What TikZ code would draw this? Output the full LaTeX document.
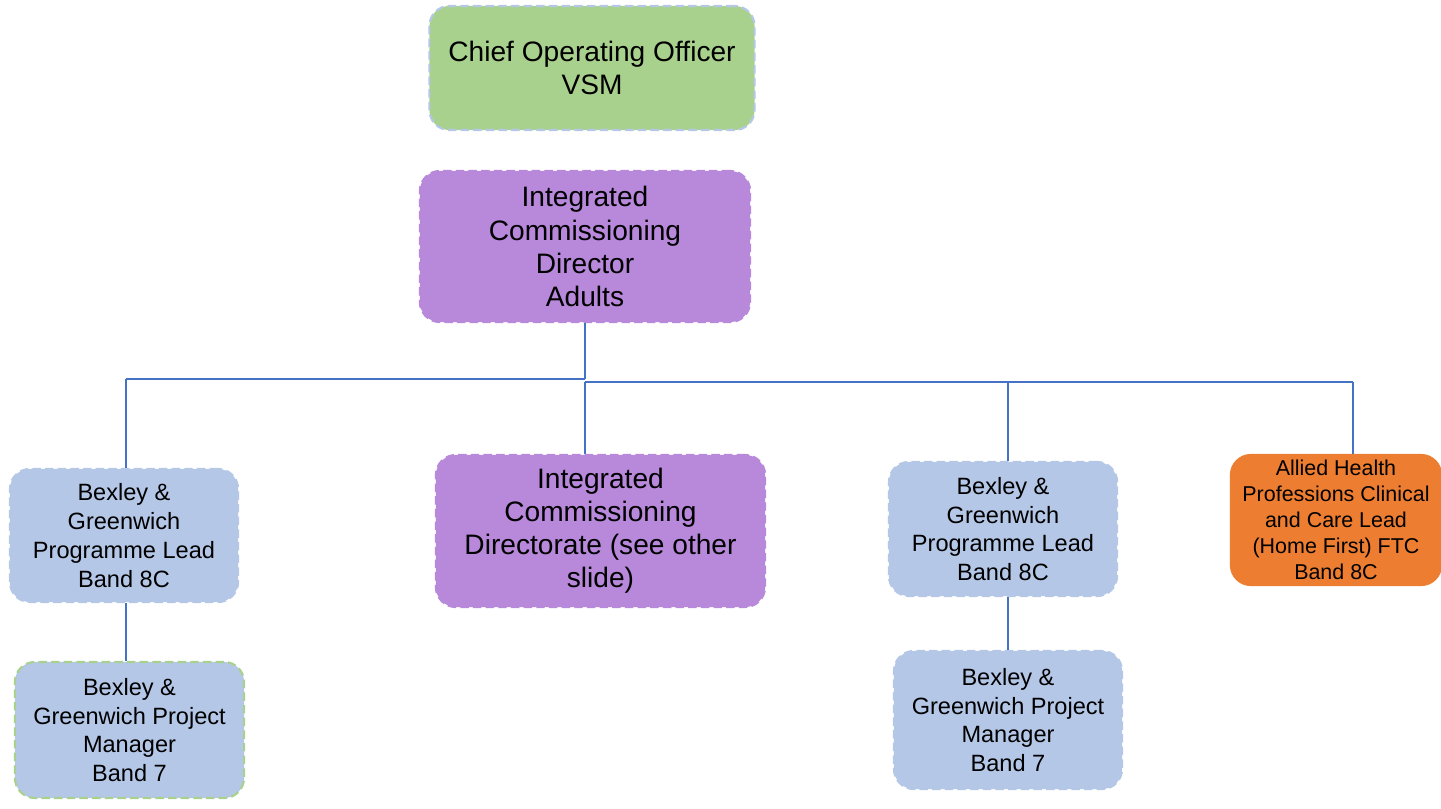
\documentclass[tikz,border=0pt]{standalone}
\usepackage{fontspec}
\setmainfont{Liberation Sans}
\usepackage{tikz}
\definecolor{boxgreen}{HTML}{A9D18E}
\definecolor{boxpurple}{HTML}{B888DB}
\definecolor{boxblue}{HTML}{B4C7E7}
\definecolor{boxorange}{HTML}{ED7D31}
\definecolor{linkblue}{HTML}{4472C4}
\begin{document}
\begin{tikzpicture}[x=0.01cm,y=-0.01cm]
\tikzset{box/.style={rounded corners=0.2cm,inner sep=0pt,align=center,line width=0.6pt,dash pattern=on 2.4pt off 1.2pt},
  big/.style={box,font=\fontsize{8}{9.4}\selectfont},
  small/.style={box,font=\fontsize{6.7}{8.2}\selectfont},
  link/.style={draw=linkblue,line width=.5pt}}
\useasboundingbox (0,0) rectangle (1441,808);
\node[big,fill=boxgreen,draw=boxblue,minimum width=3.25cm,minimum height=1.24cm] (coo) at (592,68) {Chief Operating Officer\\VSM};
\node[big,fill=boxpurple,draw=boxpurple,minimum width=3.3cm,minimum height=1.51cm] (icd) at (585,246.5) {Integrated\\Commissioning\\Director\\Adults};
\node[small,fill=boxblue,draw=boxblue,minimum width=2.28cm,minimum height=1.33cm] (plL) at (124,535.5) {Bexley \&\\Greenwich\\Programme Lead\\Band 8C};
\node[small,fill=boxblue,draw=boxgreen,minimum width=2.29cm,minimum height=1.36cm] (pmL) at (129.5,730) {Bexley \&\\Greenwich Project\\Manager\\Band 7};
\node[big,fill=boxpurple,draw=boxpurple,minimum width=3.29cm,minimum height=1.52cm] (icdir) at (600.5,531) {Integrated\\Commissioning\\Directorate (see other\\slide)};
\node[small,fill=boxblue,draw=boxblue,minimum width=2.28cm,minimum height=1.34cm] (plR) at (1003,529) {Bexley \&\\Greenwich\\Programme Lead\\Band 8C};
\node[small,fill=boxblue,draw=boxblue,minimum width=2.28cm,minimum height=1.38cm] (pmR) at (1008,720) {Bexley \&\\Greenwich Project\\Manager\\Band 7};
\node[box,solid,fill=boxorange,draw=boxorange,font=\fontsize{6.1}{7.4}\selectfont,minimum width=2.1cm,minimum height=1.3cm] (ahp) at (1336,520) {Allied Health\\Professions Clinical\\and Care Lead\\(Home First) FTC\\Band 8C};
\coordinate (busl) at (126,379);
\coordinate (busr) at (1353,382);
\draw[link] (icd.south) -- (icd.south |- busl);
\draw[link] (busl) -- (icd.south |- busl);
\draw[link] (icd.south |- busr) -- (busr);
\draw[link] (busl) -- (busl |- plL.north);
\draw[link] (busl |- plL.south) -- (busl |- pmL.north);
\draw[link] (icd.south |- busr) -- (icd.south |- icdir.north);
\draw[link] (pmR.north |- busr) -- (pmR.north |- plR.north);
\draw[link] (pmR.north |- plR.south) -- (pmR.north);
\draw[link] (busr) -- (busr |- ahp.north);
\end{tikzpicture}
\end{document}
